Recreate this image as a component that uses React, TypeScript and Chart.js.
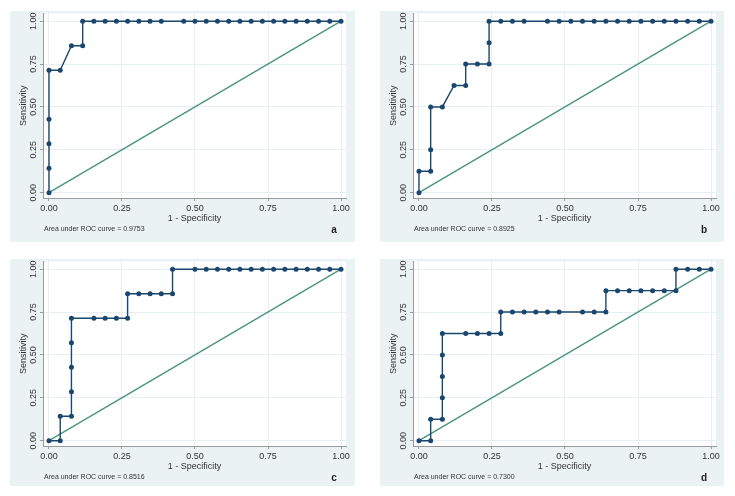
import React, { useEffect, useRef } from 'react';
import { Chart, registerables } from 'chart.js';

Chart.register(...registerables);

// ---- data ----
const TICKS = [0, 0.25, 0.5, 0.75, 1];
const TICK_LABELS = ['0.00', '0.25', '0.50', '0.75', '1.00'];
const X_TITLE = '1 - Specificity';
const Y_TITLE = 'Sensitivity';
const REF_LINE = [0, 1];

const fprA = [0, 0, 0, 0, 0, 0.0385, 0.0769, 0.1154, 0.1154, 0.1538, 0.1923, 0.2308, 0.2692, 0.3077, 0.3462, 0.3846, 0.4615, 0.5, 0.5385, 0.5769, 0.6154, 0.6538, 0.6923, 0.7308, 0.7692, 0.8077, 0.8462, 0.8846, 0.9231, 0.9615, 1];
const tprA = [0, 0.1429, 0.2857, 0.4286, 0.7143, 0.7143, 0.8571, 0.8571, 1, 1, 1, 1, 1, 1, 1, 1, 1, 1, 1, 1, 1, 1, 1, 1, 1, 1, 1, 1, 1, 1, 1];

const fprB = [0, 0, 0.04, 0.04, 0.04, 0.08, 0.12, 0.16, 0.16, 0.2, 0.24, 0.24, 0.24, 0.28, 0.32, 0.36, 0.44, 0.48, 0.52, 0.56, 0.6, 0.64, 0.68, 0.72, 0.76, 0.8, 0.84, 0.88, 0.92, 0.96, 1];
const tprB = [0, 0.125, 0.125, 0.25, 0.5, 0.5, 0.625, 0.625, 0.75, 0.75, 0.75, 0.875, 1, 1, 1, 1, 1, 1, 1, 1, 1, 1, 1, 1, 1, 1, 1, 1, 1, 1, 1];

const fprC = [0, 0.0385, 0.0385, 0.0769, 0.0769, 0.0769, 0.0769, 0.0769, 0.1538, 0.1923, 0.2308, 0.2692, 0.2692, 0.3077, 0.3462, 0.3846, 0.4231, 0.4231, 0.5, 0.5385, 0.5769, 0.6154, 0.6538, 0.6923, 0.7308, 0.7692, 0.8077, 0.8462, 0.8846, 0.9231, 0.9615, 1];
const tprC = [0, 0, 0.1429, 0.1429, 0.2857, 0.4286, 0.5714, 0.7143, 0.7143, 0.7143, 0.7143, 0.7143, 0.8571, 0.8571, 0.8571, 0.8571, 0.8571, 1, 1, 1, 1, 1, 1, 1, 1, 1, 1, 1, 1, 1, 1, 1];

const fprD = [0, 0.04, 0.04, 0.08, 0.08, 0.08, 0.08, 0.08, 0.16, 0.2, 0.24, 0.28, 0.28, 0.32, 0.36, 0.4, 0.44, 0.48, 0.56, 0.6, 0.64, 0.64, 0.68, 0.72, 0.76, 0.8, 0.84, 0.88, 0.88, 0.92, 0.96, 1];
const tprD = [0, 0, 0.125, 0.125, 0.25, 0.375, 0.5, 0.625, 0.625, 0.625, 0.625, 0.625, 0.75, 0.75, 0.75, 0.75, 0.75, 0.75, 0.75, 0.75, 0.75, 0.875, 0.875, 0.875, 0.875, 0.875, 0.875, 0.875, 1, 1, 1, 1];

const AUC_VALUES = ['0.9753', '0.8925', '0.8516', '0.7300'];
const PANEL_LETTERS = ['a', 'b', 'c', 'd'];

// ---- styles ----
const FONT = '"Liberation Sans", Arial, sans-serif';
const BG = '#eaf2f3';
const CURVE = '#1a476f';
const REF = '#4a9580';
const GRID = '#e8eff1';
const AXIS = '#9a9a9a';
const TEXT = '#333333';

const decoPlugin = {
  id: 'deco',
  beforeDraw(chart: any) {
    const { ctx, chartArea: ca, width, height } = chart;
    ctx.save();
    ctx.fillStyle = BG;
    ctx.fillRect(0, 0, width, height);
    ctx.fillStyle = '#ffffff';
    ctx.fillRect(ca.left, ca.top, ca.right - ca.left, ca.bottom - ca.top);
    ctx.restore();
  },
  afterDraw(chart: any, _args: any, opts: any) {
    const { ctx, chartArea: ca } = chart;
    const ys = chart.scales.y;
    ctx.save();
    ctx.fillStyle = TEXT;
    ctx.font = `9px ${FONT}`;
    ctx.textAlign = 'center';
    ctx.textBaseline = 'middle';
    ys.ticks.forEach((_t: any, i: number) => {
      const py = ys.getPixelForTick(i);
      ctx.save();
      ctx.translate(ca.left - 9.5, py);
      ctx.rotate(-Math.PI / 2);
      ctx.fillText(TICK_LABELS[i], 0, 0);
      ctx.restore();
    });
    ctx.font = `7px ${FONT}`;
    ctx.textAlign = 'left';
    ctx.fillText('Area under ROC curve = ' + opts.auc, ca.left + 1, 218);
    ctx.font = `bold 10px ${FONT}`;
    ctx.textAlign = 'center';
    ctx.textBaseline = 'alphabetic';
    ctx.fillStyle = '#222';
    ctx.fillText(opts.letter, 324, 222);
    ctx.restore();
  },
};

type PanelProps = {
  fpr: number[];
  tpr: number[];
  auc: string;
  letter: string;
  left: number;
  top: number;
  width: number;
  height: number;
};

function RocPanel({ fpr, tpr, auc, letter, left, top, width, height }: PanelProps) {
  const ref = useRef<HTMLCanvasElement>(null);
  useEffect(() => {
    const setTicks = (s: any) => {
      s.ticks = TICKS.map((v) => ({ value: v }));
    };
    const chart = new Chart(ref.current as HTMLCanvasElement, {
      type: 'scatter',
      data: {
        datasets: [
          {
            data: fpr.map((x, i) => ({ x, y: tpr[i] })),
            showLine: true,
            borderColor: CURVE,
            backgroundColor: CURVE,
            borderWidth: 1.4,
            pointRadius: 2.5,
            pointBorderWidth: 0,
            pointHoverRadius: 2.5,
          },
          {
            data: REF_LINE.map((v) => ({ x: v, y: v })),
            showLine: true,
            borderColor: REF,
            backgroundColor: REF,
            borderWidth: 1.4,
            pointRadius: 0,
          },
        ],
      },
      options: {
        responsive: false,
        maintainAspectRatio: false,
        animation: false,
        events: [],
        layout: { padding: { left: 0, top: 2, right: width - 336, bottom: height - 187 - 30 } },
        plugins: {
          legend: { display: false },
          tooltip: { enabled: false },
          deco: { auc, letter },
        } as any,
        scales: {
          x: {
            type: 'linear',
            position: 'bottom',
            min: -0.0205,
            max: 1.0171,
            afterBuildTicks: setTicks,
            afterFit: (s: any) => {
              s.height = 30;
            },
            ticks: {
              callback: (_v: any, i: number) => TICK_LABELS[i],
              font: { family: FONT, size: 9 },
              color: TEXT,
              padding: 2,
              maxRotation: 0,
              autoSkip: false,
            },
            grid: { color: GRID, tickColor: AXIS, tickLength: 3, lineWidth: 1 },
            border: { color: AXIS, width: 1 },
            title: {
              display: true,
              text: X_TITLE,
              font: { family: FONT, size: 9 },
              color: TEXT,
              padding: { top: 0, bottom: 4 },
            },
          },
          y: {
            type: 'linear',
            position: 'left',
            min: -0.0308,
            max: 1.0448,
            afterBuildTicks: setTicks,
            afterFit: (s: any) => {
              s.width = 33;
            },
            ticks: { display: false },
            grid: { color: GRID, tickColor: AXIS, tickLength: 3, lineWidth: 1 },
            border: { color: AXIS, width: 1 },
            title: {
              display: true,
              text: Y_TITLE,
              font: { family: FONT, size: 9 },
              color: TEXT,
              padding: { top: 8.5, bottom: 0 },
            },
          },
        },
      } as any,
      plugins: [decoPlugin as any],
    });
    return () => chart.destroy();
  }, []);
  return (
    <canvas
      ref={ref}
      width={width}
      height={height}
      style={{ position: 'absolute', left, top, width, height }}
    />
  );
}

export default function App() {
  return (
    <div style={{ position: 'absolute', left: 0, top: 0, width: 735, height: 496, background: '#ffffff' }}>
      <RocPanel fpr={fprA} tpr={tprA} auc={AUC_VALUES[0]} letter={PANEL_LETTERS[0]} left={10} top={11} width={345} height={231} />
      <RocPanel fpr={fprB} tpr={tprB} auc={AUC_VALUES[1]} letter={PANEL_LETTERS[1]} left={380} top={11} width={344} height={231} />
      <RocPanel fpr={fprC} tpr={tprC} auc={AUC_VALUES[2]} letter={PANEL_LETTERS[2]} left={10} top={259} width={345} height={227} />
      <RocPanel fpr={fprD} tpr={tprD} auc={AUC_VALUES[3]} letter={PANEL_LETTERS[3]} left={380} top={259} width={344} height={227} />
    </div>
  );
}
